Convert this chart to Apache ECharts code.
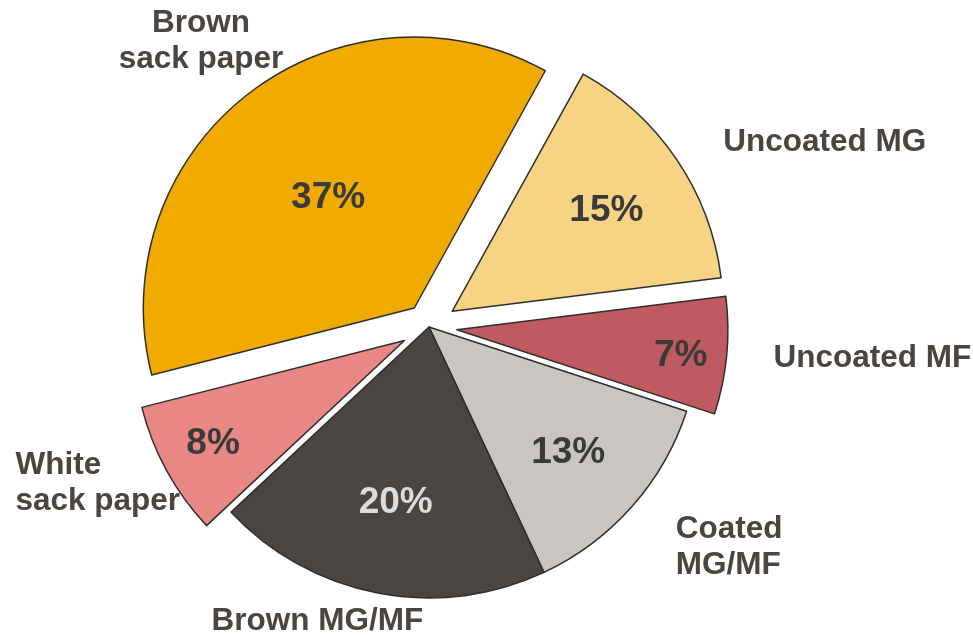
<!DOCTYPE html>
<html>
<head>
<meta charset="utf-8">
<script src="https://cdn.jsdelivr.net/npm/echarts@6/dist/echarts.min.js"></script>
<style>
  html, body { margin: 0; padding: 0; background: #ffffff; }
  #chart { width: 973px; height: 635px; }
</style>
</head>
<body>
<div id="chart"></div>
<script>
// Paper grades and their shares (%)
const categories = ['Brown\nsack paper', 'Uncoated MG', 'Uncoated MF', 'Coated\nMG/MF', 'Brown MG/MF', 'White\nsack paper'];
const shares = [37, 15, 7, 13, 20, 8];
const exploded = [true, true, true, false, false, true];

// Styling
const sliceColors = ['#F0AA00', '#F6D484', '#C05A61', '#C9C6C1', '#4A4541', '#E98784'];
const valueLabelColors = ['#3A3A3A', '#3A3A3A', '#3A3A3A', '#3A3A3A', '#DCDCDC', '#3A3A3A'];
const valueLabelRadius = [0.52, 0.687, 0.83, 0.686, 0.649, 0.805];   // fraction of pie radius
const valueLabelLift = [1, 4, 5, 3, 3, -1];    // small vertical nudge, px
const explodeGroup = [0, 1, 1, 1, 1, 1];       // slices pulled out by different distances
const groupOffset = [24, 28];
const nameLineAlign = ['center', 'left', 'left', 'left', 'left', 'left'];
const nameLen = [62, 31, 27, 61, 29, 27];
const nameLen2 = [-80, 16, 15, -7, -56, -42];

const CENTER = [429, 327];
const RADIUS = 271;
const START_ANGLE = 194.3;
const TEXT = '#4A4540';
const FONT = '"Liberation Sans", Arial, sans-serif';

const total = shares.reduce((a, b) => a + b, 0);

// Padding that pushes an inside label radially from the default mid-radius spot
function radialPadding(i) {
  let cum = 0;
  for (let k = 0; k < i; k++) cum += shares[k];
  const mid = (START_ANGLE - (cum + shares[i] / 2) / total * 360) * Math.PI / 180;
  const dx = Math.cos(mid), dy = -Math.sin(mid);
  const s = valueLabelRadius[i] * RADIUS - (RADIUS / 2 + 3);
  const sx = s * dx, sy = s * dy + valueLabelLift[i];
  return [Math.max(0, 2 * sy), Math.max(0, -2 * sx), Math.max(0, -2 * sy), Math.max(0, 2 * sx)];
}

const hidden = { color: 'rgba(0,0,0,0)', borderWidth: 0 };

function sliceSeries(group) {
  return {
    type: 'pie',
    center: CENTER,
    radius: RADIUS,
    startAngle: START_ANGLE,
    clockwise: true,
    selectedMode: 'multiple',
    selectedOffset: groupOffset[group],
    avoidLabelOverlap: false,
    emphasis: { disabled: true },
    itemStyle: { borderColor: '#2E2E2E', borderWidth: 1.5 },
    label: {
      show: true,
      position: 'inside',
      formatter: '{v|{c}%}',
      rich: { v: { fontSize: 37, fontWeight: 'bold', fontFamily: FONT } }
    },
    labelLine: { show: false },
    data: shares.map((v, i) => {
      const own = explodeGroup[i] === group;
      return {
        name: categories[i],
        value: v,
        selected: exploded[i],
        itemStyle: own ? { color: sliceColors[i] } : hidden,
        label: own
          ? { color: valueLabelColors[i], padding: radialPadding(i), rich: { v: { color: valueLabelColors[i] } } }
          : { show: false }
      };
    })
  };
}

const nameSeries = {
  type: 'pie',
  center: CENTER,
  radius: RADIUS,
  startAngle: START_ANGLE,
  clockwise: true,
  selectedMode: 'multiple',
  selectedOffset: groupOffset[1],
  avoidLabelOverlap: false,
  silent: true,
  emphasis: { disabled: true },
  itemStyle: hidden,
  label: {
    show: true,
    position: 'outside',
    alignTo: 'none',
    distanceToLabelLine: 5,
    fontSize: 31.5,
    fontWeight: 'bold',
    fontFamily: FONT,
    color: TEXT,
    lineHeight: 36,
    rich: {
      center: { align: 'center', fontSize: 31.5, fontWeight: 'bold', fontFamily: FONT, color: TEXT, lineHeight: 36 },
      left: { align: 'left', fontSize: 31.5, fontWeight: 'bold', fontFamily: FONT, color: TEXT, lineHeight: 36 }
    }
  },
  labelLine: { show: false },
  data: shares.map((v, i) => ({
    name: categories[i],
    value: v,
    selected: exploded[i],
    labelLine: { show: false, length: nameLen[i], length2: nameLen2[i] },
    label: {
      formatter: () => categories[i].split('\n').map(t => '{' + nameLineAlign[i] + '|' + t + '}').join('\n')
    }
  }))
};

const chart = echarts.init(document.getElementById('chart'), null, { renderer: 'canvas' });
chart.setOption({
  animation: false,
  backgroundColor: '#ffffff',
  series: [sliceSeries(1), sliceSeries(0), nameSeries]
});
</script>
</body>
</html>
